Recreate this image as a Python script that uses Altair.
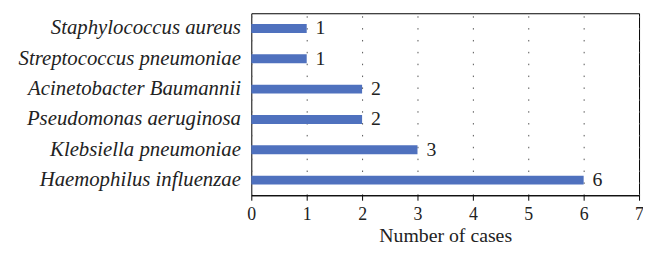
import altair as alt
import pandas as pd

organisms = [
    "Staphylococcus aureus",
    "Streptococcus pneumoniae",
    "Acinetobacter Baumannii",
    "Pseudomonas aeruginosa",
    "Klebsiella pneumoniae",
    "Haemophilus influenzae",
]
cases = [1, 1, 2, 2, 3, 6]
tick_values = [0, 1, 2, 3, 4, 5, 6, 7]

df = pd.DataFrame({"organism": organisms, "cases": cases})

FONT = "Liberation Serif"

x = alt.X(
    "cases:Q",
    title="Number of cases",
    scale=alt.Scale(domain=[0, 7], nice=False),
    axis=alt.Axis(
        values=tick_values,
        format="d",
        grid=True,
        gridDash=[1.5, 10.5],
        gridColor="#555555",
        gridWidth=1,
        domain=True,
        domainColor="black",
        ticks=True,
        tickColor="black",
        tickSize=5,
        labelFlush=False,
        labelFont=FONT,
        labelFontSize=18,
        labelColor="#222222",
        labelPadding=6,
        titleFont=FONT,
        titleFontSize=20,
        titleFontWeight="normal",
        titleColor="#222222",
        titleBaseline="alphabetic",
        titleY=47,
    ),
)
y = alt.Y(
    "organism:N",
    sort=organisms,
    title=None,
    axis=alt.Axis(
        ticks=False,
        domain=False,
        grid=False,
        labelFont=FONT,
        labelFontStyle="italic",
        labelFontSize=21,
        labelColor="#222222",
        labelPadding=11,
        labelLimit=400,
    ),
)

bars = alt.Chart(df).mark_bar(size=9, color="#4F71BE").encode(x=x, y=y)
labels = alt.Chart(df).mark_text(
    align="left", baseline="middle", dx=9, font=FONT, fontSize=20, color="#222222"
).encode(x="cases:Q", y=alt.Y("organism:N", sort=organisms), text="cases:Q")

chart = (
    alt.layer(bars, labels)
    .properties(
        width=392,
        height=184,
        autosize=alt.AutoSizeParams(type="none"),
        padding={"left": 246, "top": 4, "right": 4, "bottom": 53},
    )
    .configure_view(stroke="black", strokeWidth=1)
)

chart.save("out.html", embed_options={"renderer": "svg", "actions": False})
